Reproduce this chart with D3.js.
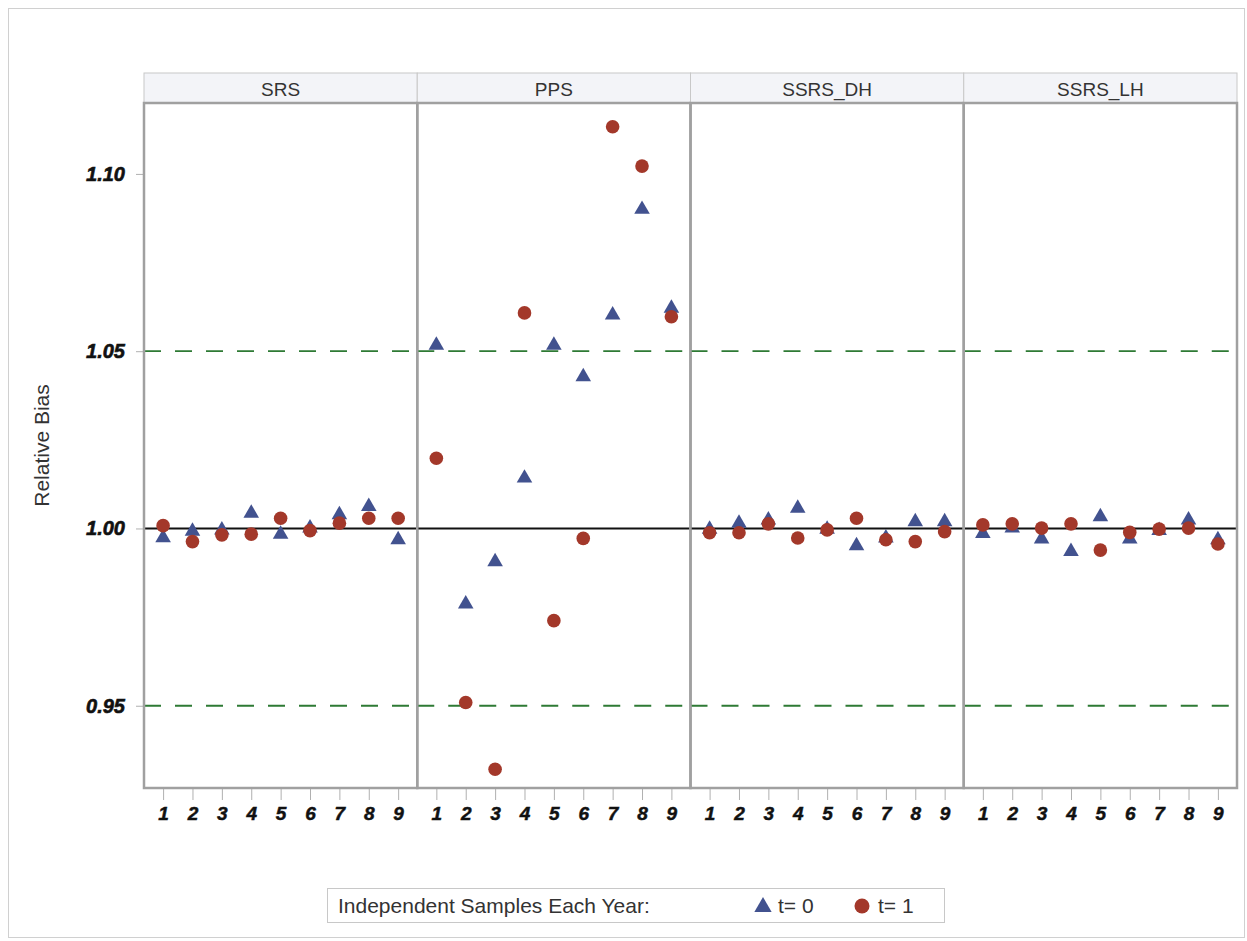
<!DOCTYPE html>
<html><head><meta charset="utf-8">
<script src="https://cdn.jsdelivr.net/npm/d3@7"></script>
<style>body{margin:0;background:#fff}svg{display:block}</style>
</head><body>
<script>
const categories = [1,2,3,4,5,6,7,8,9];
const panels = ["SRS","PPS","SSRS_DH","SSRS_LH"];
const yTicks = [0.95, 1.00, 1.05, 1.10];
const refLines = [0.95, 1.05];
const t0SRS = [0.9974,0.9992,0.9996,1.0043,0.9984,1.0001,1.0039,1.0062,0.9968];
const t1SRS = [1.0008,0.9963,0.9982,0.9984,1.0029,0.9994,1.0015,1.0029,1.0029];
const t0PPS = [1.0517,0.9787,0.9906,1.0142,1.0517,1.0428,1.0602,1.0900,1.0621];
const t1PPS = [1.0198,0.9509,0.9321,1.0608,0.9740,0.9972,1.1133,1.1022,1.0597];
const t0DH = [0.9998,1.0015,1.0024,1.0057,0.9998,0.9951,0.9973,1.0019,1.0019];
const t1DH = [0.9988,0.9988,1.0013,0.9973,0.9996,1.0029,0.9968,0.9963,0.9991];
const t0LH = [0.9986,1.0001,0.9970,0.9935,1.0033,0.9970,0.9994,1.0024,0.9968];
const t1LH = [1.0010,1.0013,1.0001,1.0013,0.9939,0.9989,0.9998,1.0001,0.9956];
const seriesT0 = [t0SRS,t0PPS,t0DH,t0LH];
const seriesT1 = [t1SRS,t1PPS,t1DH,t1LH];

const W=1247,H=941;
const svg=d3.select("body").append("svg").attr("width",W).attr("height",H);
svg.append("rect").attr("x",8.5).attr("y",8.5).attr("width",1236).attr("height",929)
  .attr("fill","#fff").attr("stroke","#d0d0d0");

const pLeft=144,pRight=1237,pTop=103,pBottom=788,headTop=73;
const pw=(pRight-pLeft)/4;
const y=d3.scaleLinear().domain([0.9268,1.12]).range([pBottom,pTop]);
const blue="#42528f", red="#a3382a";
const fontMain="'Liberation Sans', Arial, sans-serif";

const yAxis=svg.append("g").attr("transform",`translate(${pLeft},0)`)
  .call(d3.axisLeft(y).tickValues(yTicks).tickFormat(d3.format(".2f")).tickSize(8).tickPadding(11));
yAxis.select(".domain").remove();
yAxis.selectAll("line").attr("stroke","#b0b0b0");
yAxis.selectAll("text").attr("font-family",fontMain).attr("font-weight","bold")
  .attr("font-style","italic").attr("font-size",20).attr("fill","#111")
  .attr("stroke","#111").attr("stroke-width",0.6);

svg.append("text").attr("transform",`translate(49,${(pTop+pBottom)/2}) rotate(-90)`)
  .attr("text-anchor","middle").attr("font-family",fontMain).attr("font-size",21)
  .attr("fill","#333").text("Relative Bias");

panels.forEach((p,i)=>{
  const x0=pLeft+i*pw, x1=x0+pw;
  const x=d3.scalePoint().domain(categories).range([x0,x1]).padding(0.65);
  svg.append("rect").attr("x",x0).attr("y",headTop).attr("width",pw).attr("height",pTop-headTop)
    .attr("fill","#f3f4f8").attr("stroke","#c8c8c8").attr("stroke-width",1);
  svg.append("text").attr("x",(x0+x1)/2).attr("y",headTop+23).attr("text-anchor","middle")
    .attr("font-family",fontMain).attr("font-size",19).attr("fill","#333").text(p);
  const g=svg.append("g");
  refLines.forEach(v=>{
    g.append("line").attr("x1",x0).attr("x2",x1).attr("y1",y(v)).attr("y2",y(v))
      .attr("stroke","#2e7a34").attr("stroke-width",1.8).attr("stroke-dasharray","17,14");
  });
  g.append("line").attr("x1",x0).attr("x2",x1).attr("y1",y(1)).attr("y2",y(1))
    .attr("stroke","#111").attr("stroke-width",2);
  const xa=svg.append("g").attr("transform",`translate(0,${pBottom+1})`)
    .call(d3.axisBottom(x).tickSize(11).tickPadding(7));
  xa.select(".domain").remove();
  xa.selectAll("line").attr("stroke","#b0b0b0");
  xa.selectAll("text").attr("font-family",fontMain).attr("font-weight","bold")
    .attr("font-style","italic").attr("font-size",19).attr("fill","#111")
    .attr("stroke","#111").attr("stroke-width",0.5);
  const tri=d3.symbol().type(d3.symbolTriangle).size(105)();
  g.selectAll("path.t0").data(seriesT0[i]).join("path").attr("class","t0")
    .attr("d",tri).attr("fill",blue)
    .attr("transform",(d,j)=>`translate(${x(categories[j])},${y(d)})`);
  g.selectAll("circle.t1").data(seriesT1[i]).join("circle").attr("class","t1")
    .attr("cx",(d,j)=>x(categories[j])).attr("cy",d=>y(d)).attr("r",6.8).attr("fill",red);
  svg.append("rect").attr("x",x0).attr("y",pTop).attr("width",pw).attr("height",pBottom-pTop)
    .attr("fill","none").attr("stroke","#a0a0a0").attr("stroke-width",2.5);
});

const lg=svg.append("g");
lg.append("rect").attr("x",327.5).attr("y",888.5).attr("width",617).attr("height",34)
  .attr("fill","#fff").attr("stroke","#c8c8c8");
lg.append("text").attr("x",338).attr("y",913).attr("font-family",fontMain).attr("font-size",21)
  .attr("fill","#333").text("Independent Samples Each Year:");
lg.append("path").attr("d",d3.symbol().type(d3.symbolTriangle).size(130)())
  .attr("transform","translate(763,907)").attr("fill",blue);
lg.append("text").attr("x",778).attr("y",913).attr("font-family",fontMain).attr("font-size",21)
  .attr("fill","#333").text("t= 0");
lg.append("circle").attr("cx",862).attr("cy",906).attr("r",7.5).attr("fill",red);
lg.append("text").attr("x",878).attr("y",913).attr("font-family",fontMain).attr("font-size",21)
  .attr("fill","#333").text("t= 1");
</script>
</body></html>
